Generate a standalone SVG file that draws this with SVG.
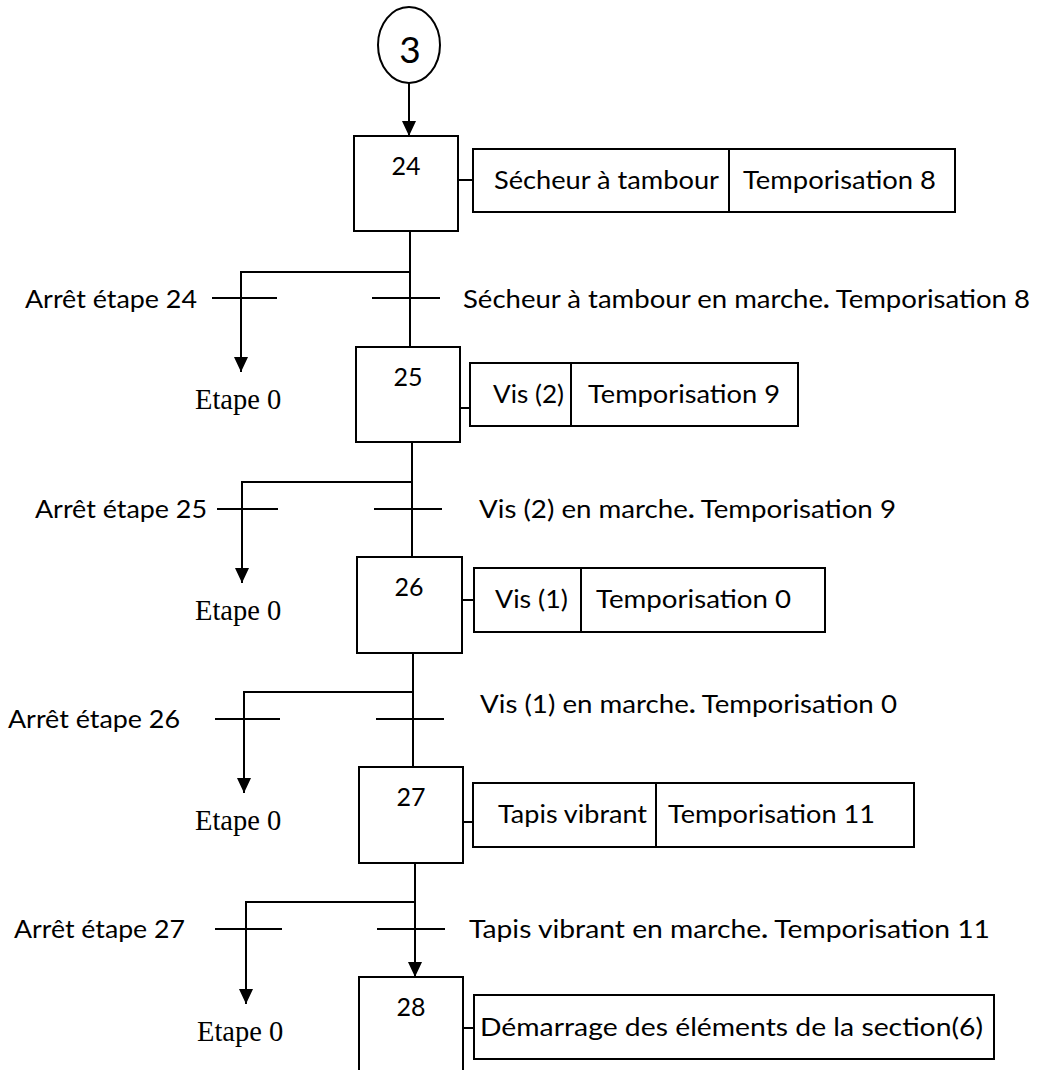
<svg xmlns="http://www.w3.org/2000/svg" width="1040" height="1070" viewBox="0 0 1040 1070">
  <style>
    .box { fill: #fff; stroke: #000; stroke-width: 2; }
    .ln { fill: none; stroke: #000; stroke-width: 2; }
    .bar { stroke: #000; stroke-width: 2; }
    .t { font-family: Lato, "Open Sans", "Liberation Sans", sans-serif; font-size: 25px; fill: #000; }
    .num { font-family: Lato, "Open Sans", "Liberation Sans", sans-serif; font-size: 25px; fill: #000; text-anchor: middle; }
    .big { font-family: Lato, "Open Sans", "Liberation Sans", sans-serif; font-size: 37px; fill: #000; text-anchor: middle; }
    .serif { font-family: "Liberation Serif", "Times New Roman", serif; font-size: 28.5px; fill: #000; }
    .b { font-weight: bold; }
  </style>
  <defs>
    <marker id="arrow" markerUnits="userSpaceOnUse" markerWidth="15" markerHeight="14" refX="15" refY="7" orient="auto">
      <path d="M0,0 L15,7 L0,14 Z" fill="#000"/>
    </marker>
  </defs>

  <rect width="1040" height="1070" fill="#fff"/>

  <!-- connectors: sequence links, alternative branches to step 0, action links -->
  <g id="connectors">
    <!-- macro-step 3 to step 24 -->
    <line class="ln" x1="409" y1="83" x2="409" y2="136" marker-end="url(#arrow)"/>
    <!-- 24 -> 25 -->
    <line class="ln" x1="410" y1="231" x2="410" y2="347"/>
    <polyline class="ln" points="410,272 241,272 241,372" marker-end="url(#arrow)"/>
    <!-- 25 -> 26 -->
    <line class="ln" x1="412" y1="442" x2="412" y2="557"/>
    <polyline class="ln" points="412,482 242,482 242,583" marker-end="url(#arrow)"/>
    <!-- 26 -> 27 -->
    <line class="ln" x1="413" y1="653" x2="413" y2="767"/>
    <polyline class="ln" points="413,692 244,692 244,793" marker-end="url(#arrow)"/>
    <!-- 27 -> 28 -->
    <line class="ln" x1="415" y1="863" x2="415" y2="977" marker-end="url(#arrow)"/>
    <polyline class="ln" points="415,902 246,902 246,1004" marker-end="url(#arrow)"/>
    <!-- action links -->
    <line class="ln" x1="458" y1="180" x2="473" y2="180"/>
    <line class="ln" x1="460" y1="408" x2="470" y2="408"/>
    <line class="ln" x1="462" y1="600" x2="474" y2="600"/>
    <line class="ln" x1="463" y1="822" x2="473" y2="822"/>
    <line class="ln" x1="463" y1="1028" x2="474" y2="1028"/>
  </g>

  <!-- macro-step 3 -->
  <g id="macro3">
    <ellipse class="box" cx="409" cy="45" rx="31" ry="38"/>
    <text class="big" x="410" y="63">3</text>
  </g>

  <!-- steps -->
  <g id="step24">
    <rect class="box" x="354" y="136" width="104" height="95"/>
    <text class="num" x="406" y="175">24</text>
  </g>
  <g id="step25">
    <rect class="box" x="356" y="347" width="104" height="95"/>
    <text class="num" x="408" y="386">25</text>
  </g>
  <g id="step26">
    <rect class="box" x="357" y="557" width="105" height="96"/>
    <text class="num" x="409" y="596">26</text>
  </g>
  <g id="step27">
    <rect class="box" x="359" y="767" width="104" height="96"/>
    <text class="num" x="411" y="806">27</text>
  </g>
  <g id="step28">
    <rect class="box" x="359" y="977" width="104" height="110"/>
    <text class="num" x="411" y="1016">28</text>
  </g>

  <!-- actions -->
  <g id="action24">
    <rect class="box" x="473" y="149" width="482" height="63"/>
    <line class="ln" x1="729" y1="149" x2="729" y2="212"/>
    <text class="t" x="494" y="189" textLength="225" lengthAdjust="spacingAndGlyphs">Sécheur à tambour</text>
    <text class="t" x="743" y="189" textLength="193" lengthAdjust="spacingAndGlyphs">Temporisation 8</text>
  </g>
  <g id="action25">
    <rect class="box" x="470" y="363" width="328" height="63"/>
    <line class="ln" x1="571" y1="363" x2="571" y2="426"/>
    <text class="t" x="493" y="403" textLength="71" lengthAdjust="spacingAndGlyphs">Vis (2)</text>
    <text class="t" x="588" y="403" textLength="192" lengthAdjust="spacingAndGlyphs">Temporisation 9</text>
  </g>
  <g id="action26">
    <rect class="box" x="474" y="568" width="351" height="64"/>
    <line class="ln" x1="581" y1="568" x2="581" y2="632"/>
    <text class="t" x="495" y="608" textLength="73" lengthAdjust="spacingAndGlyphs">Vis (1)</text>
    <text class="t" x="596" y="608" textLength="195" lengthAdjust="spacingAndGlyphs">Temporisation 0</text>
  </g>
  <g id="action27">
    <rect class="box" x="473" y="783" width="441" height="64"/>
    <line class="ln" x1="656" y1="783" x2="656" y2="847"/>
    <text class="t" x="498" y="823" textLength="149" lengthAdjust="spacingAndGlyphs">Tapis vibrant</text>
    <text class="t" x="668" y="823" textLength="207" lengthAdjust="spacingAndGlyphs">Temporisation 11</text>
  </g>
  <g id="action28">
    <rect class="box" x="474" y="995" width="520" height="64"/>
    <text class="t" x="480" y="1036" textLength="503" lengthAdjust="spacingAndGlyphs">Démarrage des éléments de la section(6)</text>
  </g>

  <!-- transitions -->
  <g id="transitions24">
    <line class="bar" x1="212" y1="298" x2="277" y2="298"/>
    <line class="bar" x1="372" y1="298" x2="440" y2="298"/>
    <text class="t" x="25" y="308" textLength="172" lengthAdjust="spacingAndGlyphs">Arrêt étape 24</text>
    <text class="t" x="463" y="308" textLength="567" lengthAdjust="spacingAndGlyphs">Sécheur à tambour en marche<tspan class="b">.</tspan> Temporisation 8</text>
  </g>
  <g id="transitions25">
    <line class="bar" x1="217" y1="509" x2="278" y2="509"/>
    <line class="bar" x1="374" y1="509" x2="442" y2="509"/>
    <text class="t" x="35" y="518" textLength="172" lengthAdjust="spacingAndGlyphs">Arrêt étape 25</text>
    <text class="t" x="479" y="518" textLength="417" lengthAdjust="spacingAndGlyphs">Vis (2) en marche<tspan class="b">.</tspan> Temporisation 9</text>
  </g>
  <g id="transitions26">
    <line class="bar" x1="215" y1="719" x2="280" y2="719"/>
    <line class="bar" x1="376" y1="719" x2="444" y2="719"/>
    <text class="t" x="8" y="728" textLength="172" lengthAdjust="spacingAndGlyphs">Arrêt étape 26</text>
    <text class="t" x="480" y="713" textLength="417" lengthAdjust="spacingAndGlyphs">Vis (1) en marche<tspan class="b">.</tspan> Temporisation 0</text>
  </g>
  <g id="transitions27">
    <line class="bar" x1="215" y1="929" x2="282" y2="929"/>
    <line class="bar" x1="377" y1="929" x2="445" y2="929"/>
    <text class="t" x="14" y="938" textLength="171" lengthAdjust="spacingAndGlyphs">Arrêt étape 27</text>
    <text class="t" x="469" y="938" textLength="521" lengthAdjust="spacingAndGlyphs">Tapis vibrant en marche<tspan class="b">.</tspan> Temporisation 11</text>
  </g>

  <!-- return targets -->
  <g id="goto0-a"><text class="serif" x="195" y="409">Etape 0</text></g>
  <g id="goto0-b"><text class="serif" x="195" y="620">Etape 0</text></g>
  <g id="goto0-c"><text class="serif" x="195" y="830">Etape 0</text></g>
  <g id="goto0-d"><text class="serif" x="197" y="1041">Etape 0</text></g>
</svg>
